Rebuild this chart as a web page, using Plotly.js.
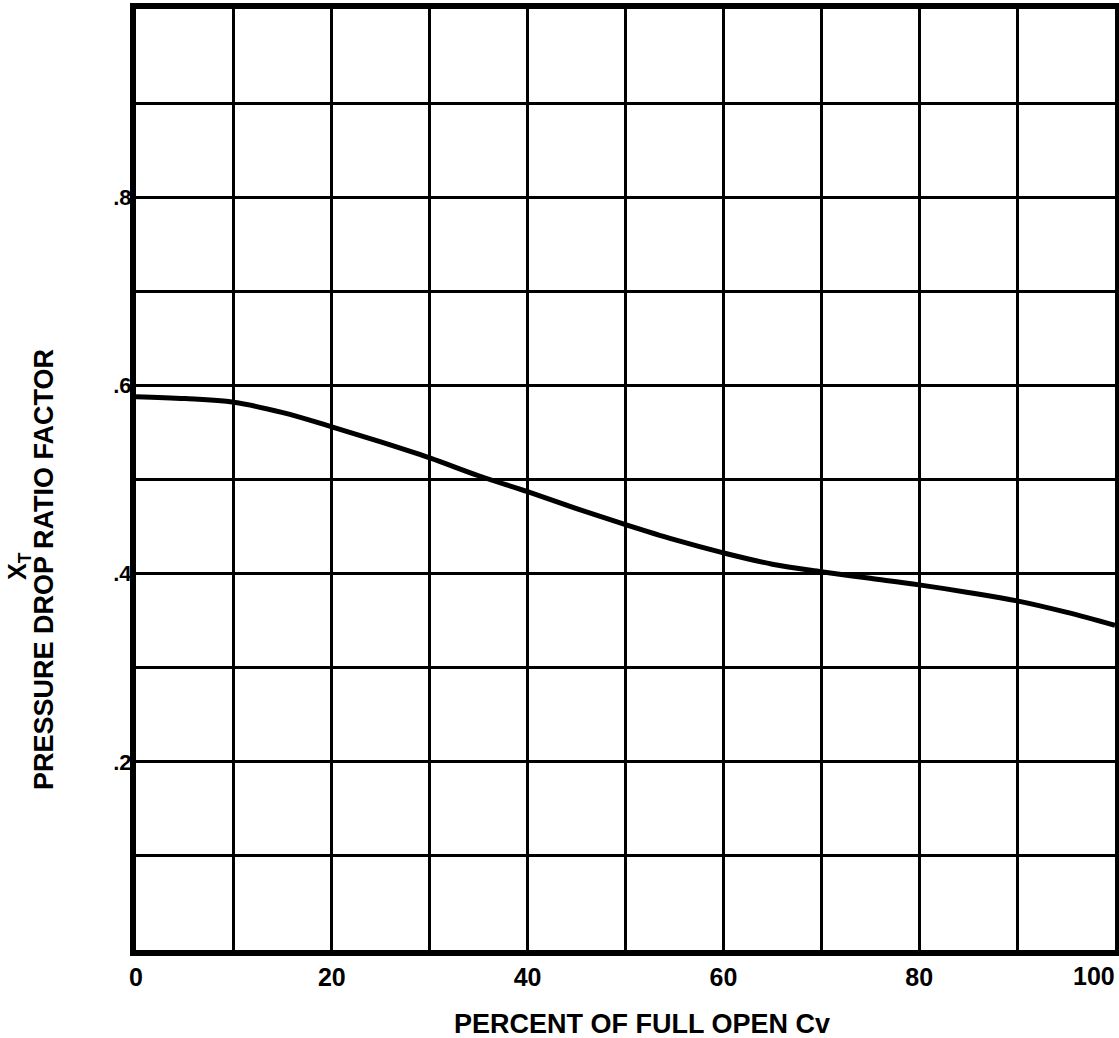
<!DOCTYPE html>
<html>
<head>
<meta charset="utf-8">
<script src="https://cdn.plot.ly/plotly-3.0.1.min.js"></script>
<style>html,body{margin:0;padding:0;background:#fff;}#chart{width:1119px;height:1038px;}</style>
</head>
<body>
<div id="chart"></div>
<script>
// Percent of full open Cv
const percentOpen = [0, 5, 10, 15, 20, 25, 30, 35, 40, 45, 50, 55, 60, 65, 70, 75, 80, 85, 90, 95, 100];
// Pressure drop ratio factor xT
const xT = [0.588, 0.586, 0.582, 0.571, 0.556, 0.540, 0.523, 0.504, 0.487, 0.469, 0.452, 0.436, 0.422, 0.410, 0.402, 0.395, 0.388, 0.380, 0.371, 0.359, 0.345];

const xTickVals = [0, 10, 20, 30, 40, 50, 60, 70, 80, 90, 100];
const xTickText = ['0', '', '20', '', '40', '', '60', '', '80', '', ''];
const xLastLabel = '100';
const yTickVals = [0, 0.1, 0.2, 0.3, 0.4, 0.5, 0.6, 0.7, 0.8, 0.9, 1.0];
const yTickText = ['', '', '.2', '', '.4', '', '.6', '', '.8', '', ''];

const font = 'Liberation Sans, Arial, Helvetica, sans-serif';

const data = [{
  x: percentOpen,
  y: xT,
  type: 'scatter',
  mode: 'lines',
  line: {color: '#000', width: 5, shape: 'spline', smoothing: 1},
  hoverinfo: 'skip'
}];

const W = 979, H = 941; // plot area size in px
const layout = {
  width: 1119,
  height: 1038,
  margin: {l: 136, r: 4, t: 9, b: 88},
  paper_bgcolor: '#fff',
  plot_bgcolor: '#fff',
  showlegend: false,
  font: {family: font, color: '#000', size: 20, weight: 'bold'},
  xaxis: {
    range: [0, 100],
    tickmode: 'array',
    tickvals: xTickVals,
    ticktext: xTickText,
    showgrid: true,
    gridcolor: '#000',
    gridwidth: 3,
    zeroline: false,
    showline: true,
    linecolor: '#000',
    linewidth: 6,
    mirror: true,
    ticks: '',
    ticklabelstandoff: 0,
    tickfont: {family: font, size: 25, color: '#000', weight: 'bold'}
  },
  yaxis: {
    range: [0, 1],
    tickmode: 'array',
    tickvals: yTickVals,
    ticktext: yTickText,
    showgrid: true,
    gridcolor: '#000',
    gridwidth: 3,
    zeroline: false,
    showline: true,
    linecolor: '#000',
    linewidth: 6,
    mirror: true,
    ticks: '',
    ticklabelstandoff: -6,
    tickfont: {family: font, size: 22, color: '#000', weight: 'bold'}
  },
  annotations: [
    {
      text: xLastLabel,
      xref: 'x', yref: 'paper',
      x: 100, y: -(976 - 950) / H,
      xanchor: 'right', yanchor: 'middle',
      xshift: 2,
      showarrow: false,
      font: {family: font, size: 25, color: '#000', weight: 'bold'}
    },
    {
      text: 'PERCENT OF FULL OPEN Cv',
      xref: 'paper', yref: 'paper',
      x: (642 - 136) / W, y: -(1024 - 950) / H,
      xanchor: 'center', yanchor: 'middle',
      showarrow: false,
      font: {family: font, size: 27, color: '#000', weight: 'bold'}
    },
    {
      text: 'X<sub>T</sub>',
      xref: 'paper', yref: 'paper',
      x: -(136 - 19) / W, y: (950 - 566) / H,
      xanchor: 'center', yanchor: 'middle',
      textangle: -90,
      showarrow: false,
      font: {family: font, size: 25, color: '#000', weight: 'bold'}
    },
    {
      text: 'PRESSURE DROP RATIO FACTOR',
      xref: 'paper', yref: 'paper',
      x: -(136 - 44) / W, y: (950 - 570) / H,
      xanchor: 'center', yanchor: 'middle',
      textangle: -90,
      showarrow: false,
      font: {family: font, size: 27, color: '#000', weight: 'bold'}
    }
  ]
};

Plotly.newPlot('chart', data, layout, {displayModeBar: false, staticPlot: true});
</script>
</body>
</html>
